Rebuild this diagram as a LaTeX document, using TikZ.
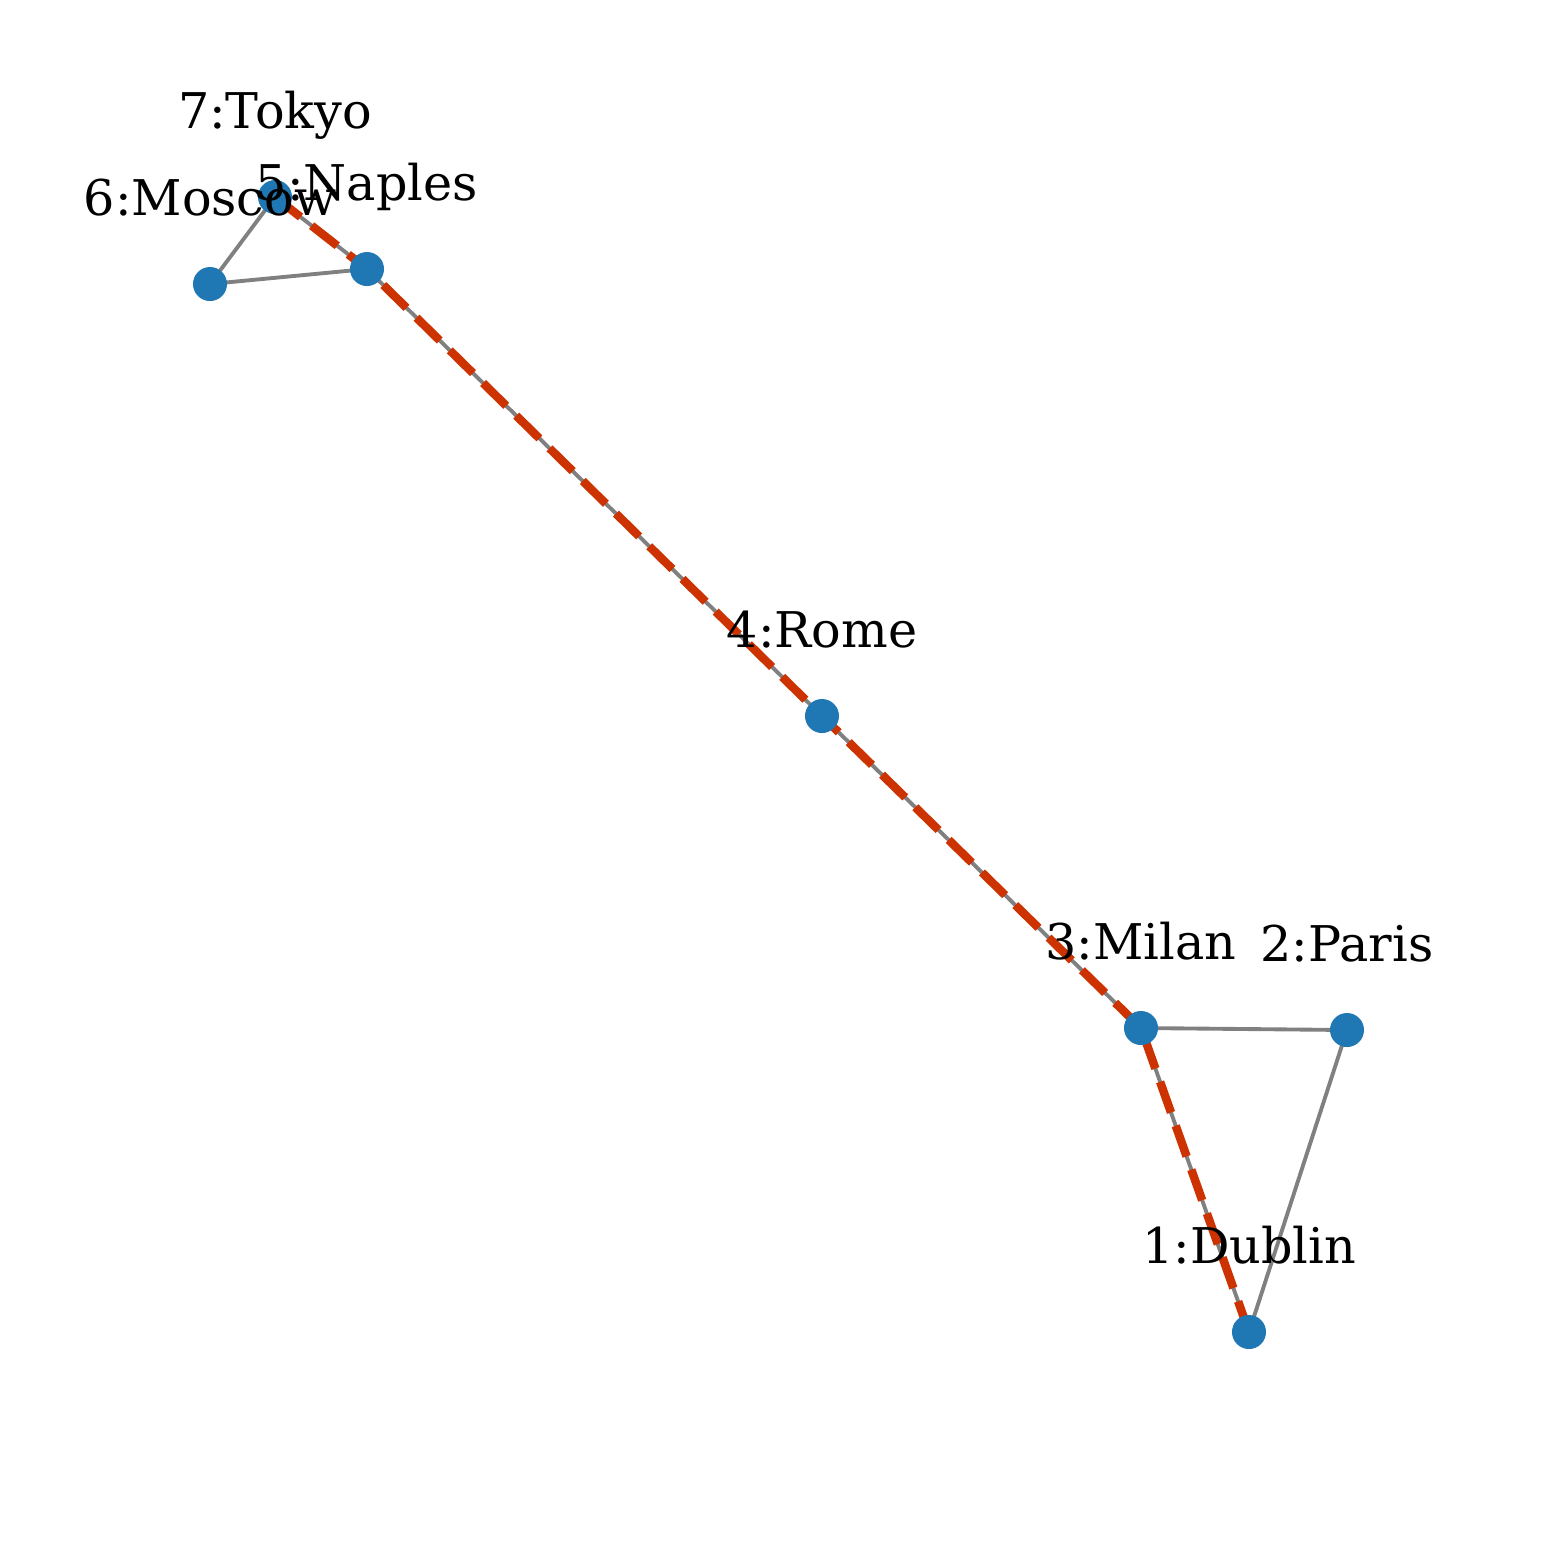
\documentclass[tikz,border=0pt]{standalone}
\usepackage{fontspec}
\setmainfont{DejaVu Serif}
\pgfdeclarelayer{bg}
\pgfsetlayers{bg,main}
\definecolor{nodeblue}{HTML}{1F77B4}
\definecolor{pathred}{RGB}{204,51,0}
\definecolor{edgegray}{HTML}{808080}
\tikzset{
  city/.style={circle,fill=nodeblue,draw=none,minimum size=0.34cm,inner sep=0pt},
  citylabel/.style={anchor=base,inner sep=0pt,font=\fontsize{14pt}{17pt}\selectfont},
  plain/.style={draw=edgegray,line width=1.1pt},
  route/.style={draw=pathred,line width=2.4pt,dash pattern=on 9.25pt off 4pt}
}
\begin{document}
\begin{tikzpicture}[x=0.01cm,y=-0.01cm]
\useasboundingbox (0,0) rectangle (1559,1559);
\node[city] (n1) at (1249,1332) {};
\node[city] (n2) at (1347,1030) {};
\node[city] (n3) at (1141,1028) {};
\node[city] (n4) at (822,716) {};
\node[city] (n5) at (367,269) {};
\node[city] (n6) at (210,284) {};
\node[city] (n7) at (275,197) {};
\begin{pgfonlayer}{bg}
\draw[plain] (n7.center) -- (n6.center);
\draw[plain] (n6.center) -- (n5.center);
\draw[plain] (n7.center) -- (n5.center);
\draw[plain] (n5.center) -- (n4.center);
\draw[plain] (n4.center) -- (n3.center);
\draw[plain] (n3.center) -- (n2.center);
\draw[plain] (n2.center) -- (n1.center);
\draw[plain] (n3.center) -- (n1.center);
\draw[route] (n1.center) -- (n3.center) -- (n4.center) -- (n5.center) -- (n7.center);
\end{pgfonlayer}
\node[citylabel] (l1) at ([yshift=0.68cm]n1.center) {1:Dublin};
\node[citylabel] (l2) at ([yshift=0.68cm]n2.center) {2:Paris};
\node[citylabel] (l3) at ([yshift=0.68cm]n3.center) {3:Milan};
\node[citylabel] (l4) at ([yshift=0.68cm]n4.center) {4:Rome};
\node[citylabel] (l5) at ([yshift=0.68cm]n5.center) {5:Naples};
\node[citylabel] (l6) at ([yshift=0.68cm]n6.center) {6:Moscow};
\node[citylabel] (l7) at ([yshift=0.68cm]n7.center) {7:Tokyo};
\end{tikzpicture}
\end{document}
